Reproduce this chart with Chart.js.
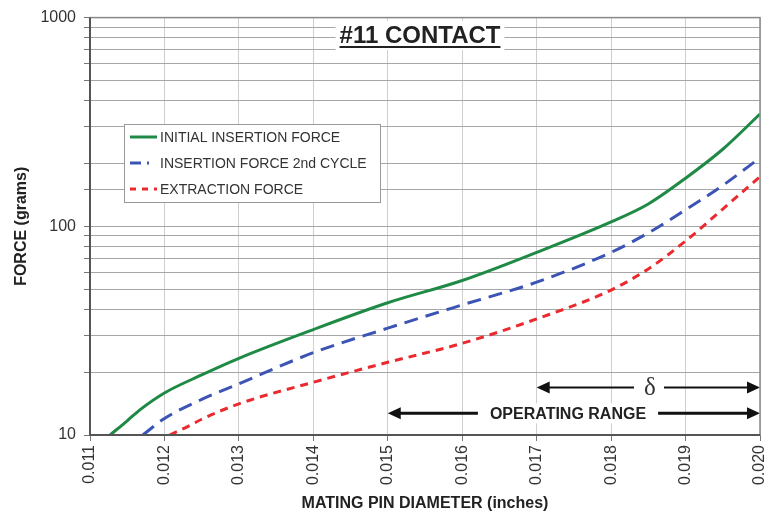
<!DOCTYPE html>
<html>
<head>
<meta charset="utf-8">
<script src="https://cdn.jsdelivr.net/npm/chart.js@4.4.1/dist/chart.umd.min.js"></script>
<style>
  html, body { margin: 0; padding: 0; background: #fff; }
  #wrap { width: 778px; height: 515px; }
</style>
</head>
<body>
<div id="wrap"><canvas id="forceChart" width="778" height="515"></canvas></div>
<script>
// values (x = pin diameter, y = grams)
const initialX = [0.01127, 0.0115, 0.01167, 0.012, 0.0125, 0.013, 0.014, 0.015, 0.016, 0.017, 0.018, 0.0185, 0.019, 0.0195, 0.020];
const initialY = [10, 11.7, 13.2, 15.9, 19.4, 23.3, 32, 43, 55, 75, 105, 128, 170, 234, 345];

const secondX = [0.01171, 0.012, 0.0125, 0.013, 0.014, 0.015, 0.016, 0.017, 0.018, 0.0185, 0.019, 0.0195, 0.020];
const secondY = [10, 12.0, 14.8, 17.6, 24.8, 32.5, 42, 54, 75, 93, 120, 157, 213];

const extractX = [0.01207, 0.01234, 0.0125, 0.013, 0.014, 0.015, 0.016, 0.017, 0.018, 0.0185, 0.019, 0.0195, 0.020];
const extractY = [10, 11.1, 11.9, 14.1, 17.9, 22.3, 27.5, 36, 49.5, 62.5, 85, 121, 173];

const seriesLabels = ["INITIAL INSERTION FORCE", "INSERTION FORCE 2nd CYCLE", "EXTRACTION FORCE"];
const yTickLabels = [10, 100, 1000];

// arrows under the curves: [from, to, force level]
const deltaRange = [0.017, 0.020, 16.9];
const operatingRange = [0.015, 0.020, 12.7];

const FONT = "'Liberation Sans', Arial, sans-serif";

function toPoints(xs, ys) {
  return xs.map((x, i) => ({ x: x, y: ys[i] }));
}

function arrowHead(ctx, x, y, dir) {
  ctx.beginPath();
  ctx.moveTo(x, y);
  ctx.lineTo(x - dir * 13, y - 6);
  ctx.lineTo(x - dir * 13, y + 6);
  ctx.closePath();
  ctx.fill();
}

function drawArrow(ctx, x1, x2, y, gapL, gapR, width) {
  ctx.lineWidth = width;
  ctx.beginPath();
  ctx.moveTo(x1 + 10, y); ctx.lineTo(gapL, y);
  ctx.moveTo(gapR, y); ctx.lineTo(x2 - 10, y);
  ctx.stroke();
  arrowHead(ctx, x1, y, -1);
  arrowHead(ctx, x2, y, 1);
}

const overlay = {
  id: 'overlay',
  afterDatasetsDraw(chart) {
    const ctx = chart.ctx;
    const xs = chart.scales.x, ys = chart.scales.y;
    ctx.save();

    // title with white backing
    ctx.font = "bold 24px " + FONT;
    ctx.textAlign = 'center';
    ctx.textBaseline = 'alphabetic';
    const title = "#11 CONTACT";
    const tw = ctx.measureText(title).width;
    const tcx = 420, tby = 43;
    ctx.fillStyle = '#fff';
    ctx.fillRect(tcx - tw / 2 - 4, 21, tw + 8, 29);
    ctx.fillStyle = '#222';
    ctx.fillText(title, tcx, tby);
    ctx.fillRect(tcx - tw / 2, tby + 3, tw, 2);

    // legend box
    const bx = 124, by = 124, bw = 256, bh = 78;
    ctx.fillStyle = '#fff';
    ctx.fillRect(bx, by, bw, bh);
    ctx.strokeStyle = '#999';
    ctx.lineWidth = 1;
    ctx.strokeRect(bx + 0.5, by + 0.5, bw, bh);
    ctx.font = "14px " + FONT;
    ctx.textAlign = 'left';
    ctx.textBaseline = 'middle';
    chart.data.datasets.forEach((ds, i) => {
      const y = 137 + i * 26;
      ctx.strokeStyle = ds.borderColor;
      ctx.lineWidth = 3;
      ctx.setLineDash(i === 0 ? [] : (i === 1 ? [11, 6, 2, 20] : [6, 6]));
      ctx.beginPath();
      ctx.moveTo(130, y);
      ctx.lineTo(157, y);
      ctx.stroke();
      ctx.setLineDash([]);
      ctx.fillStyle = '#333';
      ctx.fillText(ds.label, 160, y + 1);
    });

    // delta and operating range arrows
    ctx.fillStyle = '#111';
    ctx.strokeStyle = '#111';
    const dY = ys.getPixelForValue(deltaRange[2]);
    const dL = xs.getPixelForValue(deltaRange[0]), dR = xs.getPixelForValue(deltaRange[1]);
    ctx.font = "25px 'Liberation Serif', 'DejaVu Serif', serif";
    ctx.textAlign = 'center';
    ctx.textBaseline = 'middle';
    const dcx = 650;
    ctx.fillStyle = '#fff';
    ctx.fillRect(dcx - 14, dY - 12, 28, 24);
    ctx.fillStyle = '#333';
    ctx.fillText("\u03b4", dcx, dY + 1);
    ctx.fillStyle = '#111';
    drawArrow(ctx, dL, dR, dY, dcx - 16, dcx + 14, 2);

    const oY = ys.getPixelForValue(operatingRange[2]);
    const oL = xs.getPixelForValue(operatingRange[0]), oR = xs.getPixelForValue(operatingRange[1]);
    ctx.font = "bold 16px " + FONT;
    const ocx = 568;
    const ow = ctx.measureText("OPERATING RANGE").width;
    ctx.fillStyle = '#fff';
    ctx.fillRect(ocx - ow / 2 - 6, oY - 10, ow + 12, 20);
    ctx.fillStyle = '#222';
    ctx.fillText("OPERATING RANGE", ocx, oY + 1);
    ctx.fillStyle = '#111';
    drawArrow(ctx, oL, oR, oY, ocx - ow / 2 - 12, ocx + ow / 2 + 12, 3);

    // plot frame
    const a = chart.chartArea;
    ctx.strokeStyle = '#888';
    ctx.lineWidth = 1.5;
    ctx.strokeRect(a.left, a.top, a.right - a.left, a.bottom - a.top);
    ctx.strokeStyle = '#555';
    ctx.lineWidth = 2;
    ctx.beginPath();
    ctx.moveTo(a.left, a.top); ctx.lineTo(a.left, a.bottom); ctx.lineTo(a.right, a.bottom);
    ctx.stroke();
    ctx.restore();
  }
};

const ctx = document.getElementById('forceChart').getContext('2d');

new Chart(ctx, {
  type: 'scatter',
  data: {
    datasets: [{
      label: seriesLabels[0],
      data: toPoints(initialX, initialY),
      borderColor: '#1f8a45',
      borderWidth: 3,
      showLine: true,
      pointRadius: 0,
      cubicInterpolationMode: 'monotone'
    }, {
      label: seriesLabels[1],
      data: toPoints(secondX, secondY),
      borderColor: '#3c55b5',
      borderWidth: 3,
      borderDash: [14, 8],
      showLine: true,
      pointRadius: 0,
      cubicInterpolationMode: 'monotone'
    }, {
      label: seriesLabels[2],
      data: toPoints(extractX, extractY),
      borderColor: '#ea2a2e',
      borderWidth: 3,
      borderDash: [8, 6],
      showLine: true,
      pointRadius: 0,
      cubicInterpolationMode: 'monotone'
    }]
  },
  options: {
    responsive: false,
    animation: false,
    layout: { padding: { left: 0, top: 16, right: 18, bottom: 0 } },
    plugins: {
      legend: { display: false },
      tooltip: { enabled: false }
    },
    scales: {
      x: {
        type: 'linear',
        min: 0.011,
        max: 0.020,
        afterFit: (scale) => {
          scale.height = 80;
          scale.paddingRight = 0;
          scale.paddingLeft = 0;
        },
        ticks: {
          stepSize: 0.001,
          minRotation: 90,
          maxRotation: 90,
          padding: 4,
          color: '#333',
          font: { family: FONT, size: 16 },
          callback: (v) => v.toFixed(3)
        },
        grid: { color: '#cfcfcf', lineWidth: 1, tickLength: 6, tickColor: '#777' },
        border: { display: false },
        title: {
          display: true,
          text: 'MATING PIN DIAMETER (inches)',
          color: '#222',
          font: { family: FONT, size: 16, weight: 'bold' },
          padding: { top: 0, bottom: 2 }
        }
      },
      y: {
        type: 'logarithmic',
        min: 10,
        max: 1000,
        afterFit: (scale) => { scale.width = 90; },
        ticks: {
          autoSkip: false,
          color: '#333',
          padding: 8,
          font: { family: FONT, size: 16 },
          callback: (v) => yTickLabels.includes(v) ? String(v) : ''
        },
        grid: { color: '#a6a6a6', lineWidth: 1, tickLength: 6, tickColor: '#777' },
        border: { display: false },
        title: {
          display: true,
          text: 'FORCE (grams)',
          color: '#222',
          font: { family: FONT, size: 16, weight: 'bold' },
          padding: { top: 12, bottom: 0 }
        }
      }
    }
  },
  plugins: [overlay]
});
</script>
</body>
</html>
